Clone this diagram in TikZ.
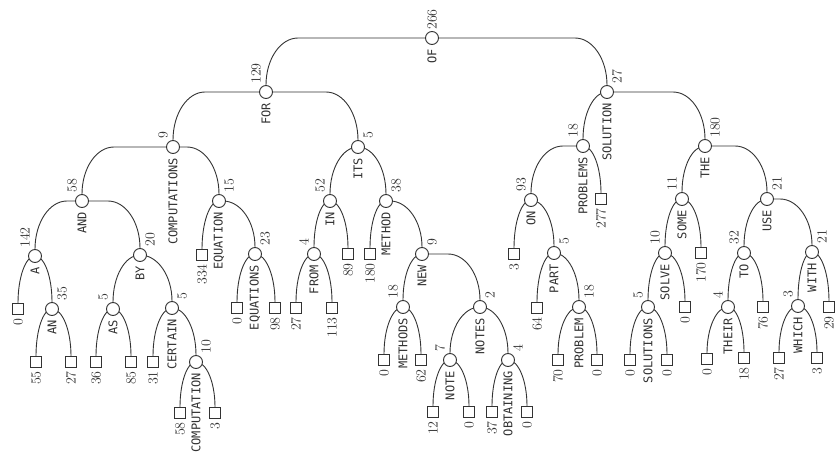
\documentclass[tikz,border=0pt]{standalone}
\usepackage{fontspec}
\newfontfamily\keyfont{DejaVu Sans Mono}
\usetikzlibrary{calc,backgrounds}
\definecolor{ink}{HTML}{333333}

\tikzset{
  key/.style={draw=ink, circle, fill=white, minimum size=13pt, inner sep=0pt, line width=0.9pt},
  gap/.style={draw=ink, rectangle, fill=white, minimum size=11pt, inner sep=0pt, line width=0.9pt},
  word/.style={rotate=90, anchor=east, inner sep=0pt, color=ink, font=\keyfont\fontsize{12}{12}\selectfont},
  freq/.style={rotate=90, inner sep=0pt, color=ink, font=\fontsize{14}{14}\selectfont},
  edge/.style={draw=ink, line width=0.9pt},
  % horizontal run, then a quarter ellipse down onto the child
  arm/.style={to path={
    let \p1=(\tikztostart), \p2=(\tikztotarget.north),
        \n1={sign(\x2-\x1)}, \n2={min(32,abs(\x2-\x1))} in
    (\p1) -- ({\x2-\n1*\n2*1pt},\y1)
    .. controls ({\x2-0.448*\n1*\n2*1pt},\y1) and (\x2,{\y2+0.552*(\y1-\y2)}) .. (\p2)}}
}

\begin{document}
\begin{tikzpicture}[x=1pt, y=-1pt]
    \useasboundingbox (0,0) rectangle (836,460);

    % internal nodes: name/x/y/key/weight/side of the weight
    \foreach \n/\x/\y/\w/\k/\s in {
        of/432/38/OF/266/0, for/266/92/FOR/129/-1, sol/607/92/SOLUTION/27/1,
        comp/173/147/COMPUTATIONS/9/-1, its/358/147/ITS/5/1,
        probs/583/146/PROBLEMS/18/-1, the/705/146/THE/180/1,
        and/82/201/AND/58/-1, eqn/219/201/EQUATION/15/1, in/330/201/IN/52/-1,
        meth/386/201/METHOD/38/1, on/531/200/ON/93/-1, some/682/199/SOME/11/-1,
        use/767/199/USE/21/1,
        a/35/256/A/142/-1, by/140/255/BY/20/1, eqns/255/254/EQUATIONS/23/1,
        from/314/254/FROM/4/-1, new/422/254/NEW/9/1, part/554/253/PART/5/1,
        solve/665/253/SOLVE/10/-1, to/744/253/TO/32/-1, with/812/252/WITH/21/1,
        an/52/309/AN/35/1, as/113/309/AS/5/-1, cert/172/308/CERTAIN/5/1,
        methods/403/307/METHODS/18/-1, notes/480/307/NOTES/2/1,
        prob/579/307/PROBLEM/18/1, solns/648/307/SOLUTIONS/5/-1,
        their/728/307/THEIR/4/-1, which/798/306/WHICH/3/-1,
        compn/196/362/COMPUTATION/10/1, note/450/360/NOTE/7/-1,
        obtn/508/360/OBTAINING/4/1} {
        \node[key] (k-\n) at (\x,\y) {};
        \node[word] (k-\n-w) at ([yshift=-4pt]k-\n.south) {\w};
        \node[freq, anchor=west] (k-\n-f) at ([shift={({\s*10pt},8pt)}]k-\n.center) {\k};
    }

    % external nodes (gaps): index/x/y/weight
    \foreach \i/\x/\y/\v in {
        1/18/309/0, 2/36/362/55, 3/71/362/27, 4/96/362/36, 5/131/362/85,
        6/153/362/31, 7/180/413/58, 8/215/413/3, 9/202/255/334, 10/237/308/0,
        11/275/308/98, 12/296/308/27, 13/332/308/113, 14/348/254/89,
        15/370/254/180, 16/384/360/0, 17/421/360/62, 18/433/412/12,
        19/469/412/0, 20/492/412/37, 21/527/412/0, 22/514/254/3, 23/537/308/64,
        24/558/360/70, 25/597/360/0, 26/601/199/277, 27/630/360/0,
        28/667/360/0, 29/685/307/0, 30/701/253/170, 31/707/359/0,
        32/744/358/18, 33/763/307/76, 34/779/358/27, 35/817/358/3,
        36/829/307/29} {
        \node[gap] (g\i) at (\x,\y) {};
        \node[freq, anchor=east] (g\i-f) at ([yshift=-3pt]g\i.south) {\v};
    }

    % branches
    \begin{scope}[on background layer]
    \foreach \p/\c in {
        k-of/k-for, k-of/k-sol, k-for/k-comp, k-for/k-its, k-sol/k-probs,
        k-sol/k-the, k-comp/k-and, k-comp/k-eqn, k-its/k-in, k-its/k-meth,
        k-probs/k-on, k-probs/g26, k-the/k-some, k-the/k-use,
        k-and/k-a, k-and/k-by, k-eqn/g9, k-eqn/k-eqns, k-in/k-from, k-in/g14,
        k-meth/g15, k-meth/k-new, k-on/g22, k-on/k-part, k-some/k-solve,
        k-some/g30, k-use/k-to, k-use/k-with,
        k-a/g1, k-a/k-an, k-by/k-as, k-by/k-cert, k-eqns/g10, k-eqns/g11,
        k-from/g12, k-from/g13, k-new/k-methods, k-new/k-notes, k-part/g23,
        k-part/k-prob, k-solve/k-solns, k-solve/g29, k-to/k-their, k-to/g33,
        k-with/k-which, k-with/g36,
        k-an/g2, k-an/g3, k-as/g4, k-as/g5, k-cert/g6, k-cert/k-compn,
        k-methods/g16, k-methods/g17, k-notes/k-note, k-notes/k-obtn,
        k-prob/g24, k-prob/g25, k-solns/g27, k-solns/g28, k-their/g31,
        k-their/g32, k-which/g34, k-which/g35,
        k-compn/g7, k-compn/g8, k-note/g18, k-note/g19, k-obtn/g20, k-obtn/g21}
        \draw[edge] (\p) to[arm] (\c);
    \end{scope}
\end{tikzpicture}
\end{document}
